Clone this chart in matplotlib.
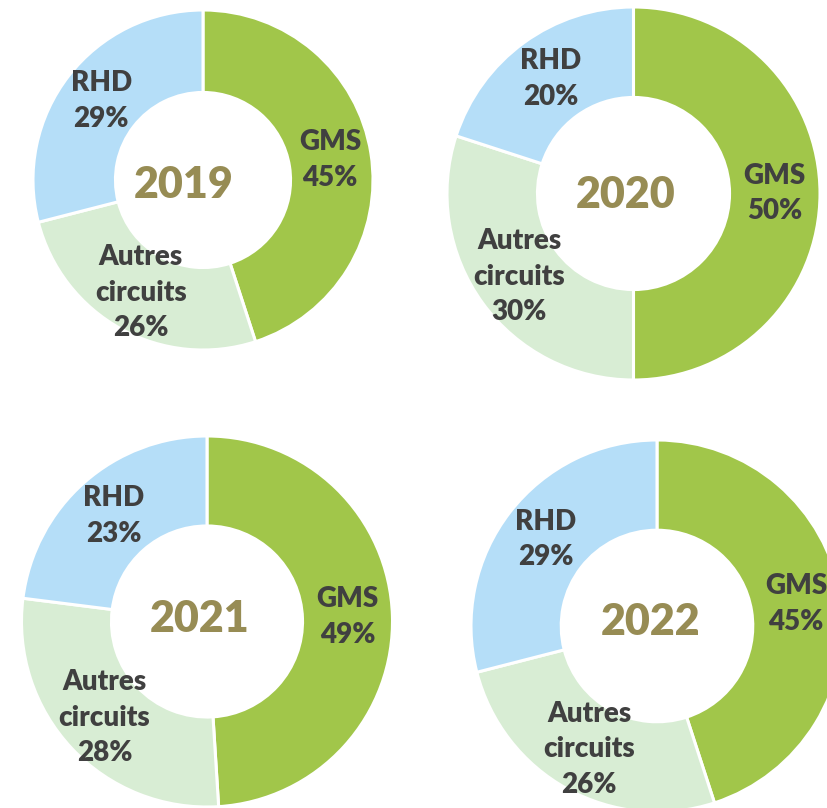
import numpy as np
import matplotlib.pyplot as plt

plt.rcParams['font.family'] = ['Lato', 'DejaVu Sans']

years = ['2019', '2020', '2021', '2022']
categories = ['GMS', 'Autres\ncircuits', 'RHD']
gms = [45, 50, 49, 45]
autres = [26, 30, 28, 26]
rhd = [29, 20, 23, 29]

colors = ['#A1C64A', '#D8EDD4', '#B5DEF8']
label_color = '#404040'
year_color = '#978C54'

# centre (x, y up from bottom), outer radius, year label position (pixels)
centers = [(203, 628), (633.5, 614.5), (207, 186.5), (657, 182)]
radii = [170, 186.5, 185.5, 186]
year_pos = [(184, 623), (626, 613), (200, 189), (651, 186)]
hole = 0.515

fig = plt.figure(figsize=(8.28, 8.08), dpi=100)
ax = fig.add_axes([0, 0, 1, 1])

for i, year in enumerate(years):
    values = [gms[i], autres[i], rhd[i]]
    wedges, _ = ax.pie(values, colors=colors, startangle=90, counterclock=False,
                       center=centers[i], radius=radii[i],
                       wedgeprops=dict(width=radii[i] * (1 - hole),
                                       edgecolor='white', linewidth=2.2))
    r_mid = radii[i] * (1 + hole) / 2
    for w, name, v in zip(wedges, categories, values):
        theta = np.deg2rad((w.theta1 + w.theta2) / 2)
        x = centers[i][0] + r_mid * np.cos(theta)
        y = centers[i][1] + r_mid * np.sin(theta)
        ax.text(x, y, f'{name}\n{v}%', ha='center', va='center',
                fontsize=20, fontweight='heavy', color=label_color,
                linespacing=1.45)
    ax.text(year_pos[i][0], year_pos[i][1], year, ha='center', va='center',
            fontsize=31, fontweight='heavy', color=year_color)

ax.set_xlim(0, 828)
ax.set_ylim(0, 808)
ax.set_aspect('equal')
ax.axis('off')

fig.savefig('out.png', dpi=100, facecolor='white')
